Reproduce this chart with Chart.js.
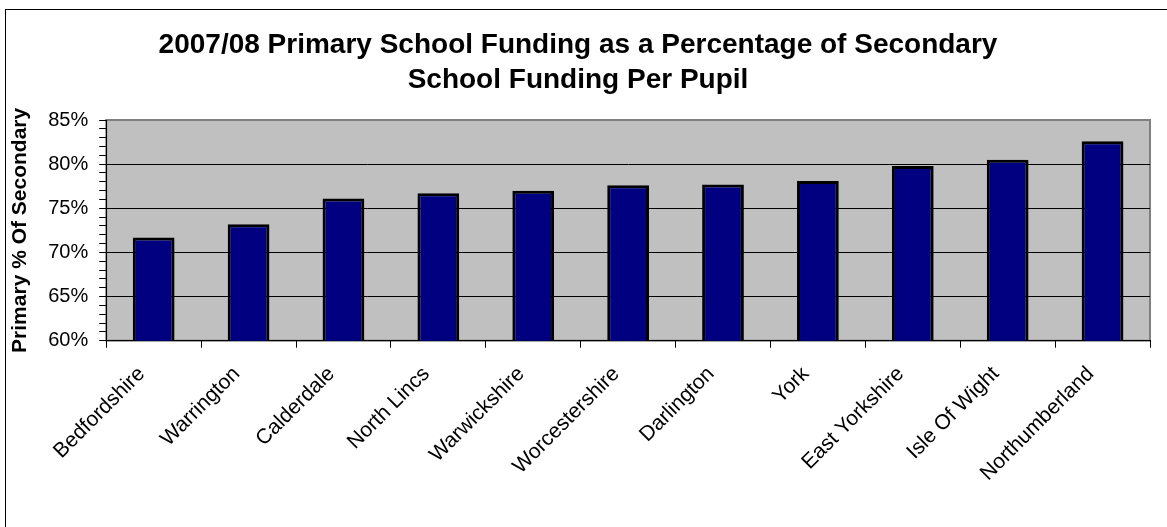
<!DOCTYPE html>
<html>
<head>
<meta charset="utf-8">
<title>Primary School Funding</title>
<script src="https://cdn.jsdelivr.net/npm/chart.js@4/dist/chart.umd.min.js"></script>
<style>
	html, body { margin: 0; padding: 0; background: #fff; overflow: hidden; }
	#frame {
		position: absolute;
		left: 5px;
		top: 9px;
		width: 1200px;
		height: 600px;
		border: 1px solid #000;
	}
	#wrap {
		position: absolute;
		left: 0;
		top: 0;
		width: 1167px;
		height: 527px;
	}
</style>
</head>
<body>
<div id="frame"></div>
<div id="wrap"><canvas id="chart" width="1167" height="527"></canvas></div>
<script>
"use strict";

const authorities = [
	"Bedfordshire", "Warrington", "Calderdale", "North Lincs", "Warwickshire",
	"Worcestershire", "Darlington", "York", "East Yorkshire", "Isle Of Wight",
	"Northumberland",
];

// primary funding per pupil as % of secondary
const primaryPct = [71.7, 73.2, 76.1, 76.7, 77.0, 77.6, 77.7, 78.1, 79.8, 80.5, 82.6];

const titleLines = [
	"2007/08 Primary School Funding as a Percentage of Secondary",
	"School Funding Per Pupil",
];
const yTitle = "Primary % Of Secondary";

const FONT = "'Liberation Sans', Arial, sans-serif";

// grey plot background with a thin grey frame, like the old spreadsheet charts
const plotBackground = {
	id: "plotBackground",
	beforeDraw(chart) {
		const { ctx, chartArea: a } = chart;
		ctx.save();
		ctx.fillStyle = "#c0c0c0";
		ctx.fillRect(a.left, a.top, a.right - a.left, a.bottom - a.top);
		ctx.strokeStyle = "#808080";
		ctx.lineWidth = 2;
		ctx.strokeRect(a.left, a.top, a.right - a.left, a.bottom - a.top);
		ctx.restore();
	},
};

new Chart(document.getElementById("chart"), {
	type: "bar",
	data: {
		labels: authorities,
		datasets: [
			{
				data: primaryPct,
				backgroundColor: "#000080",
				borderColor: "#000000",
				borderWidth: 3,
				borderSkipped: false,
				categoryPercentage: 1.0,
				barPercentage: 0.44,
			},
		],
	},
	options: {
		responsive: false,
		animation: false,
		layout: {
			padding: { left: 6, right: 17, top: 14, bottom: 27 },
		},
		plugins: {
			legend: { display: false },
			tooltip: { enabled: false },
			title: {
				display: true,
				text: titleLines,
				color: "#000",
				font: { family: FONT, size: 28, weight: "bold", lineHeight: 1.25 },
				padding: { top: 14, bottom: 22 },
			},
		},
		scales: {
			x: {
				offset: true,
				grid: {
					offset: true,
					drawOnChartArea: false,
					color: "#000",
					tickColor: "#000",
					tickLength: 7,
				},
				border: { display: true, color: "#000", width: 1 },
				ticks: {
					color: "#000",
					font: { family: FONT, size: 21 },
					minRotation: 45,
					maxRotation: 45,
					autoSkip: false,
					padding: 14,
					labelOffset: -12,
				},
			},
			y: {
				min: 60,
				max: 85,
				grid: {
					color: ctx => {
						const v = ctx.tick ? ctx.tick.value : null;
						if (v === null || v === 60 || v === 85) {
							return "rgba(0,0,0,0)";
						}
						return v % 5 === 0 ? "#000" : "rgba(0,0,0,0)";
					},
					tickColor: "#000",
					tickLength: 7,
					lineWidth: 1,
				},
				border: { display: true, color: "#000", width: 1 },
				ticks: {
					stepSize: 1,
					autoSkip: false,
					color: "#000",
					font: { family: FONT, size: 20 },
					padding: 11,
					callback: value => (value % 5 === 0 ? value + "%" : ""),
				},
				title: {
					display: true,
					text: yTitle,
					color: "#000",
					font: { family: FONT, size: 21, weight: "bold" },
					padding: { top: 2, bottom: 4 },
				},
			},
		},
	},
	plugins: [plotBackground],
});
</script>
</body>
</html>
